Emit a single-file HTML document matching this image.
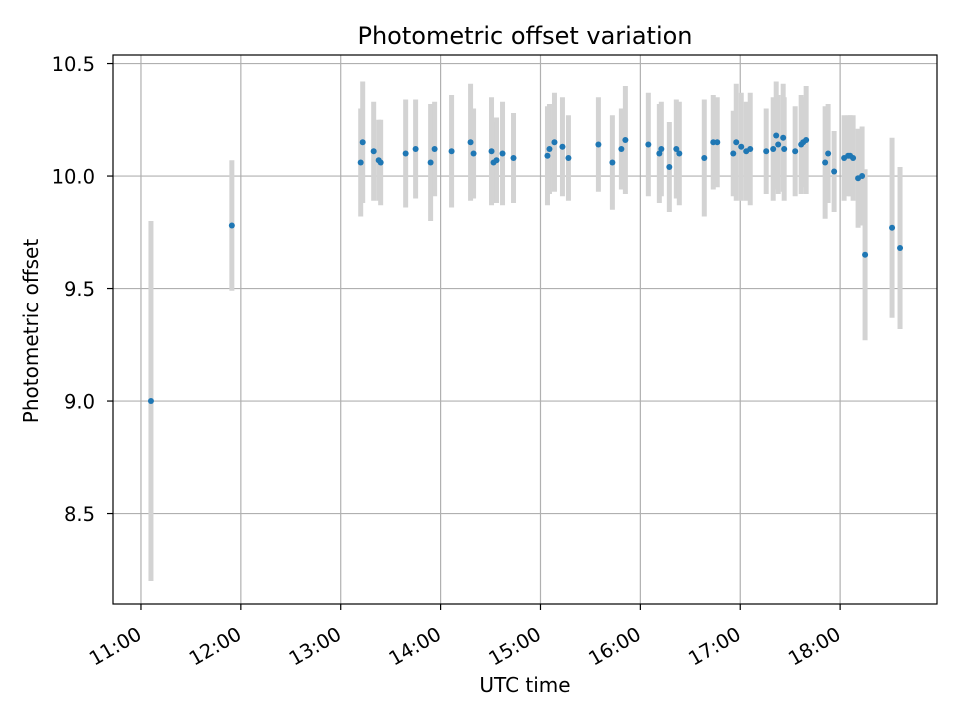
<!DOCTYPE html>
<html><head><meta charset="utf-8"><style>
body{margin:0;background:#fff;font-family:"Liberation Sans","DejaVu Sans",sans-serif;}
svg text{font-family:"DejaVu Sans","Liberation Sans",sans-serif;}
</style></head><body>
<svg id="chart" width="960" height="720" xmlns="http://www.w3.org/2000/svg">
<rect width="960" height="720" fill="#fff"/>
<g id="grid"></g>
<g id="errs"></g>
<g id="pts"></g>
<rect x="113" y="55" width="824" height="549" fill="none" stroke="#000" stroke-width="1.2"/>
<g id="ticks"></g>
<text x="525" y="44" font-size="24" text-anchor="middle">Photometric offset variation</text>
<text x="525" y="692" font-size="20" text-anchor="middle">UTC time</text>
<text x="38" y="331" font-size="20" text-anchor="middle" transform="rotate(-90 38 331)">Photometric offset</text>
</svg>
<script>
const times=[11.10,11.91,13.20,13.22,13.33,13.38,13.40,13.65,13.75,13.90,13.94,14.11,14.30,14.33,14.51,14.53,14.56,14.62,14.73,15.07,15.09,15.14,15.22,15.28,15.58,15.72,15.81,15.85,16.08,16.19,16.21,16.29,16.36,16.39,16.64,16.73,16.77,16.93,16.96,17.01,17.06,17.10,17.26,17.33,17.36,17.38,17.43,17.44,17.55,17.61,17.63,17.66,17.85,17.88,17.94,18.04,18.08,18.10,18.13,18.18,18.22,18.25,18.52,18.60];
const offsets=[9.00,9.78,10.06,10.15,10.11,10.07,10.06,10.10,10.12,10.06,10.12,10.11,10.15,10.10,10.11,10.06,10.07,10.10,10.08,10.09,10.12,10.15,10.13,10.08,10.14,10.06,10.12,10.16,10.14,10.10,10.12,10.04,10.12,10.10,10.08,10.15,10.15,10.10,10.15,10.13,10.11,10.12,10.11,10.12,10.18,10.14,10.17,10.12,10.11,10.14,10.15,10.16,10.06,10.10,10.02,10.08,10.09,10.09,10.08,9.99,10.00,9.65,9.77,9.68];
const errors=[0.80,0.29,0.24,0.27,0.22,0.18,0.19,0.24,0.22,0.26,0.21,0.25,0.26,0.20,0.24,0.18,0.19,0.23,0.20,0.22,0.20,0.22,0.22,0.19,0.21,0.21,0.18,0.24,0.23,0.22,0.21,0.20,0.22,0.23,0.26,0.21,0.20,0.19,0.26,0.24,0.22,0.25,0.19,0.23,0.24,0.22,0.24,0.23,0.20,0.22,0.20,0.24,0.25,0.22,0.18,0.19,0.18,0.18,0.19,0.22,0.22,0.38,0.40,0.36];
const xTicks=[11,12,13,14,15,16,17,18];
const xTickLabels=["11:00","12:00","13:00","14:00","15:00","16:00","17:00","18:00"];
const yTicks=[8.5,9.0,9.5,10.0,10.5];
const yTickLabels=["8.5","9.0","9.5","10.0","10.5"];
const L=113,R=937,T=55,B=604,x0=10.72,x1=18.97,y0=8.098,y1=10.538;
const X=v=>L+(v-x0)/(x1-x0)*(R-L);
const Y=v=>B-(v-y0)/(y1-y0)*(B-T);
const NS="http://www.w3.org/2000/svg";
function mk(t,a,p){const e=document.createElementNS(NS,t);for(const k in a)e.setAttribute(k,a[k]);p.appendChild(e);return e;}
const grid=document.getElementById('grid'),ticks=document.getElementById('ticks');
xTicks.forEach((t,i)=>{const x=X(t);
 const g=mk('line',{x1:x,x2:x,y1:T,y2:B,stroke:'#b0b0b0','stroke-width':1.2},grid);
 
 
 const tk=mk('line',{x1:x,x2:x,y1:B,y2:B+6,stroke:'#000','stroke-width':1.2},ticks);
 
 
 const ax=x+2,ay=B+34;
 const tx=mk('text',{x:ax,y:ay,'font-size':19.5,'text-anchor':'end',transform:`rotate(-30 ${ax} ${ay})`},ticks);
 tx.textContent=xTickLabels[i];
 
 
});
yTicks.forEach((t,i)=>{const y=Y(t);
 const g=mk('line',{x1:L,x2:R,y1:y,y2:y,stroke:'#b0b0b0','stroke-width':1.2},grid);
 
 
 const tk=mk('line',{x1:L-6,x2:L,y1:y,y2:y,stroke:'#000','stroke-width':1.2},ticks);
 
 
 const tx=mk('text',{x:L-18,y:y+7.5,'font-size':19.5,'text-anchor':'end'},ticks);
 tx.textContent=yTickLabels[i];
 
 
});
const errs=document.getElementById('errs'),pts=document.getElementById('pts');
times.forEach((t,i)=>{const x=X(t);
 const e=mk('line',{x1:x,x2:x,y1:Y(offsets[i]+errors[i]),y2:Y(offsets[i]-errors[i]),stroke:'#d3d3d3','stroke-width':5},errs);
 
 
});
times.forEach((t,i)=>{
 const c=mk('circle',{cx:X(t),cy:Y(offsets[i]),r:3,fill:'#1f77b4'},pts);
 
 
});
</script>
</body></html>
